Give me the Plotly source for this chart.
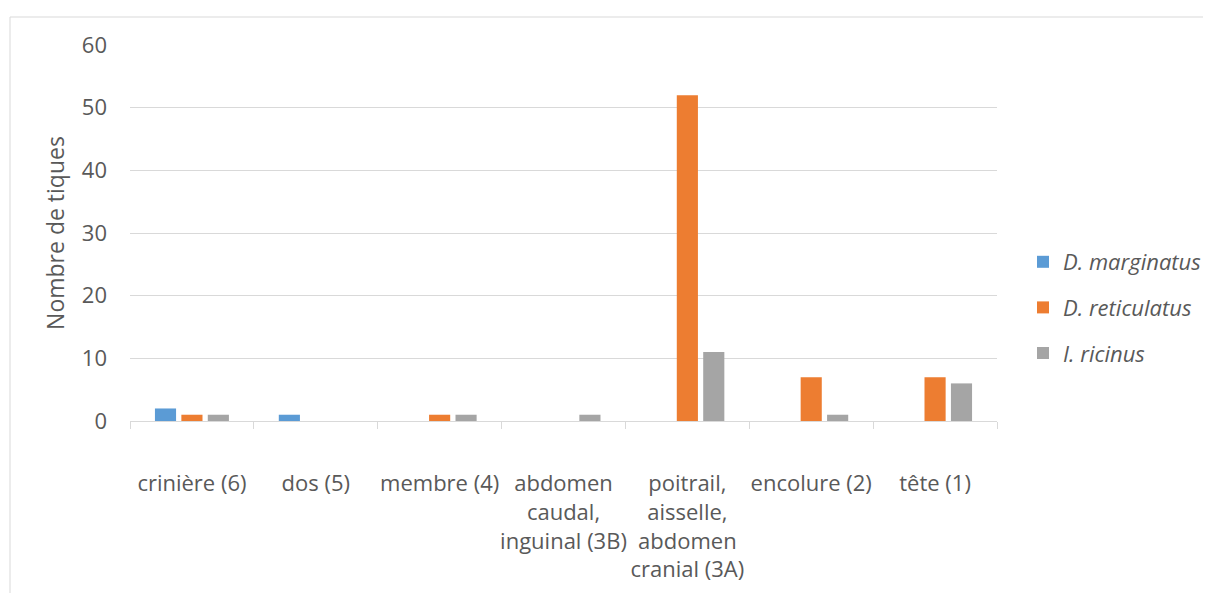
import plotly.graph_objects as go

categories = ["crinière (6)", "dos (5)", "membre (4)",
              "abdomen<br>caudal,<br>inguinal (3B)",
              "poitrail,<br>aisselle,<br>abdomen<br>cranial (3A)",
              "encolure (2)", "tête (1)"]
d_marginatus = [2, 1, 0, 0, 0, 0, 0]
d_reticulatus = [1, 0, 1, 0, 52, 7, 7]
i_ricinus = [1, 0, 1, 1, 11, 1, 6]

series = [
    ("<i>D. marginatus</i>", d_marginatus, "#5B9BD5"),
    ("<i>D. reticulatus</i>", d_reticulatus, "#ED7D31"),
    ("<i>I. ricinus</i>", i_ricinus, "#A5A5A5"),
]

FONT = "Open Sans, Liberation Sans, sans-serif"
TXT = "#595959"
GRID = "#D9D9D9"
FS = 22

fig = go.Figure()
for i, (name, vals, col) in enumerate(series):
    fig.add_trace(go.Bar(x=categories, y=vals, name=name, marker_color=col,
                         marker_line_width=0, legendgroup=f"g{i}"))

# page has an 8px body margin; work in page pixels and convert
OFF = 8
W, H = 1211 - OFF, 593 - OFF
L, T = 130 - OFF, 45 - OFF
R = W - (997 - OFF)
B = H - (421 - OFF)
pw, ph = W - L - R, H - T - B

def px_x(p):
    return (p - OFF - L) / pw

def px_y(p):
    return (H - B - (p - OFF)) / ph

fig.update_layout(
    width=W, height=H,
    margin=dict(l=L, r=R, t=T, b=B, autoexpand=False),
    paper_bgcolor="white", plot_bgcolor="white",
    font=dict(family=FONT, size=FS, color=TXT),
    barmode="group", bargap=0.36, bargroupgap=0.2,
    legend=dict(x=px_x(1023), y=px_y(241), xanchor="left", yanchor="top",
                font=dict(family=FONT, size=FS, color=TXT),
                tracegroupgap=14, traceorder="grouped", bgcolor="rgba(0,0,0,0)"),
    xaxis=dict(showline=True, linecolor=GRID, linewidth=1,
               ticks="outside", tickson="boundaries", ticklen=7, tickcolor=GRID,
               tickfont=dict(family=FONT, size=FS, color=TXT),
               ticklabelstandoff=43,
               showgrid=False, tickangle=0),
    yaxis=dict(range=[0, 60], dtick=10, showgrid=True, gridcolor=GRID, gridwidth=1,
               zeroline=False, showline=False, ticks="", ticklabelstandoff=22,
               tickfont=dict(family=FONT, size=FS, color=TXT),
               title=dict(text="Nombre de tiques", standoff=10,
                          font=dict(family=FONT, size=23, color=TXT))),
    shapes=[
        dict(type="line", xref="paper", yref="paper",
             x0=px_x(10), x1=px_x(1400), y0=px_y(17), y1=px_y(17),
             line=dict(color=GRID, width=1), layer="below"),
        dict(type="line", xref="paper", yref="paper",
             x0=px_x(10), x1=px_x(10), y0=px_y(17), y1=px_y(800),
             line=dict(color=GRID, width=1), layer="below"),
    ],
)

fig.write_html("out.html")
